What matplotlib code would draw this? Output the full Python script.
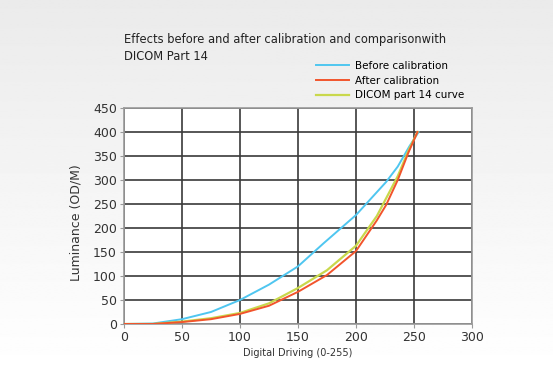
import numpy as np
import matplotlib
matplotlib.use("Agg")
import matplotlib.pyplot as plt

# Data
before_x = [0, 25, 50, 75, 100, 125, 150, 172, 200, 226, 236, 246, 254]
before_y = [0, 1, 10, 25, 50, 82, 120, 168, 227, 296, 328, 370, 400]

after_x = [0, 25, 50, 75, 100, 125, 150, 175, 200, 218, 226, 236, 245, 253]
after_y = [0, 0, 4, 10, 21, 38, 67, 102, 152, 216, 248, 300, 356, 400]

dicom_x = [0, 25, 50, 75, 100, 125, 150, 175, 200, 218, 236, 245, 253]
dicom_y = [0, 0, 5, 12, 23, 43, 75, 112, 163, 225, 308, 360, 400]

x_ticks = [0, 50, 100, 150, 200, 250, 300]
y_ticks = [0, 50, 100, 150, 200, 250, 300, 350, 400, 450]

title_lines = ["Effects before and after calibration and comparisonwith", "DICOM Part 14"]

plt.rcParams['font.family'] = ['DejaVu Sans']

fig = plt.figure(figsize=(5.53, 3.73), dpi=100)

# Light gray to white background gradient
bg = fig.add_axes([0, 0, 1, 1], zorder=-10)
grad = np.linspace(0.92, 1.0, 256).reshape(-1, 1)
bg.imshow(grad, aspect='auto', cmap='gray', vmin=0, vmax=1, extent=[0, 1, 0, 1])
bg.axis('off')

ax = fig.add_axes([0.2242, 0.1314, 0.6293, 0.579])
ax.set_facecolor('white')

ax.plot(before_x, before_y, color='#4fc6f0', linewidth=1.4, label='Before calibration', zorder=3)
ax.plot(dicom_x, dicom_y, color='#c9d84c', linewidth=1.6, label='DICOM part 14 curve', zorder=3)
ax.plot(after_x, after_y, color='#f2542c', linewidth=1.4, label='After calibration', zorder=4)

ax.set_xlim(0, 300)
ax.set_ylim(0, 450)
ax.set_xticks(x_ticks)
ax.set_yticks(y_ticks)
ax.grid(True, color='#3a3a3a', linewidth=1.2)
ax.set_axisbelow(True)
for s in ax.spines.values():
    s.set_color('#9a9a9a')
    s.set_linewidth(1.2)
ax.tick_params(axis='both', labelsize=9, colors='#9a9a9a', labelcolor='#333333', length=3, pad=2)

ax.set_xlabel("Digital Driving (0-255)", fontsize=7, color='#333333', labelpad=3)
ax.set_ylabel("Luminance (OD/M)", fontsize=9, color='#333333')
ax.yaxis.set_label_coords(-0.12, 0.47)

# Title, two lines drawn separately
fig.text(124 / 553, 1 - 40 / 373, title_lines[0], fontsize=8.3, color='#222222', ha='left', va='center')
fig.text(124 / 553, 1 - 57 / 373, title_lines[1], fontsize=8.3, color='#222222', ha='left', va='center')

handles, labels = ax.get_legend_handles_labels()
order = [0, 2, 1]
ax.legend([handles[i] for i in order], [labels[i] for i in order],
          loc='upper left', bbox_to_anchor=(316 / 553, 1 - 61 / 373), bbox_transform=fig.transFigure,
          frameon=False, fontsize=7.5, handlelength=3.2, labelspacing=0.45, handletextpad=0.55,
          borderaxespad=0, borderpad=0)

fig.savefig("out.png", dpi=100)
